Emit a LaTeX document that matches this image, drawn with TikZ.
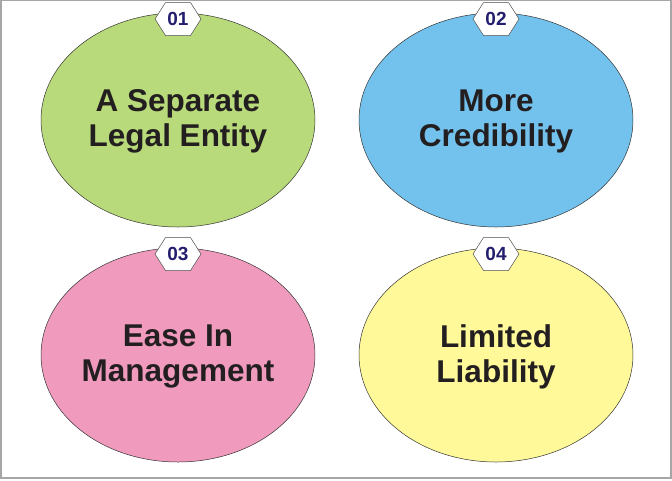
\documentclass[tikz,border=0pt]{standalone}
\usepackage{fontspec}
\setmainfont{Liberation Sans}
\definecolor{leafgreen}{RGB}{184,218,122}
\definecolor{skyblue}{RGB}{115,194,238}
\definecolor{rosepink}{RGB}{240,155,190}
\definecolor{paleyellow}{RGB}{255,249,154}
\definecolor{badgeblue}{RGB}{35,30,110}
\definecolor{inkdark}{RGB}{35,31,32}
\tikzset{
	bubbletext/.style={font=\bfseries\fontsize{31.5}{35}\selectfont, text=inkdark, align=center},
	badgetext/.style={font=\bfseries\fontsize{19}{21}\selectfont, text=badgeblue}
}

\begin{document}
\begin{tikzpicture}[x=1pt, y=-1pt]
	\useasboundingbox (0, 0) rectangle (672, 480);
	\draw[gray!70, line width=1.2pt] (1, 0.5) rectangle (671, 478);
	\foreach \cx/\cy/\fillc/\num/\txt in {178/120/leafgreen/01/{A Separate\\Legal Entity},
		496/120/skyblue/02/{More\\Credibility},
		178/355/rosepink/03/{Ease In\\Management},
		496/355/paleyellow/04/{Limited\\Liability}} {
		\draw[fill=\fillc, draw=black!80, line width=0.5pt] (\cx, \cy) ellipse [x radius=137, y radius=107];
		\node[bubbletext] (bubble\num) at (\cx, \cy+1.5) {\txt};
		\draw[fill=white, draw=black!70, line width=0.5pt] (\cx-23, \cy-101) -- (\cx-12.5, \cy-117.5) -- (\cx+12.5, \cy-117.5) -- (\cx+23, \cy-101) -- (\cx+12.5, \cy-84.5) -- (\cx-12.5, \cy-84.5) -- cycle;
		\node[badgetext] (badge\num) at (\cx, \cy-101) {\num};
	}
\end{tikzpicture}
\end{document}
